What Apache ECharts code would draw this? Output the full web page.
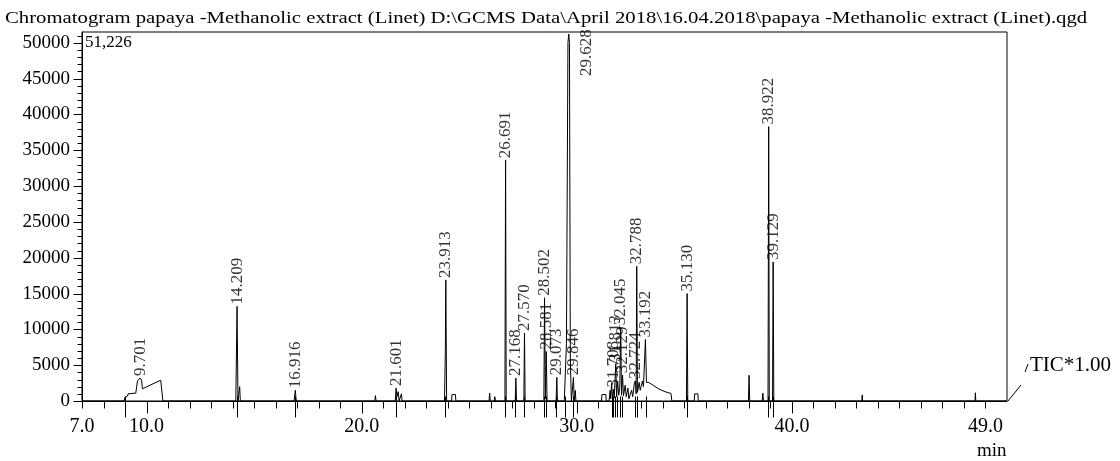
<!DOCTYPE html>
<html><head><meta charset="utf-8">
<script src="https://cdn.jsdelivr.net/npm/echarts@6/dist/echarts.min.js"></script>
<style>html,body{margin:0;padding:0;background:#fff;}#c{width:1120px;height:461px;}</style>
</head><body><div id="c"></div>
<script>
const titleText = 'Chromatogram papaya -Methanolic extract (Linet) D:\\GCMS Data\\April 2018\\16.04.2018\\papaya -Methanolic extract (Linet).qgd';
const maxLabel = '51,226';
const detectorLabel = 'TIC*1.00';
const xUnit = 'min';

// chromatogram trace: [retention time (min), intensity]
const trace = [
[7.0,0],[8.96,0],[8.99,500],[9.12,700],[9.14,1000],[9.50,1100],[9.58,2800],[9.701,3200],[9.77,2900],[9.81,1700],[9.90,1900],[10.30,2400],[10.66,2900],[10.73,2900],[10.76,0],
[14.15,0],[14.209,13200],[14.25,0],[14.30,0],[14.33,2000],[14.36,0],
[16.86,0],[16.916,1500],[16.95,300],[16.98,0],
[20.61,0],[20.64,750],[20.67,0],
[21.56,0],[21.601,1800],[21.64,600],[21.70,1300],[21.74,0],[21.82,0],[21.85,1000],[21.88,0],
[23.85,0],[23.89,7000],[23.913,16900],[23.95,0],[24.18,0],[24.20,900],[24.36,900],[24.38,0],
[25.92,0],[25.95,1100],[25.98,0],[26.16,0],[26.19,600],[26.22,0],
[26.66,0],[26.691,33600],[26.72,0],
[27.14,0],[27.168,3200],[27.20,0],
[27.54,0],[27.570,9500],[27.60,0],
[28.47,0],[28.502,14400],[28.54,300],[28.581,6900],[28.62,0],
[29.04,0],[29.073,3300],[29.10,0],
[29.42,0],[29.52,8000],[29.59,50000],[29.628,51226],[29.66,50000],[29.70,6000],[29.75,0],
[29.81,0],[29.846,3300],[29.88,0],[29.91,0],[29.93,1500],[29.96,0],
[31.15,0],[31.17,900],[31.35,900],[31.37,0],
[31.50,0],[31.55,1500],[31.58,300],[31.62,2500],[31.66,500],[31.708,1600],[31.74,400],[31.78,3000],[31.813,5200],[31.85,600],[31.90,2800],[31.95,800],[32.00,2000],[32.045,10300],[32.08,800],[32.129,3600],[32.17,700],[32.25,2200],[32.30,600],[32.38,1800],[32.42,300],[32.55,1500],[32.60,600],[32.68,2500],[32.724,2800],[32.76,1000],[32.788,18800],[32.82,1200],[32.90,2600],[32.95,1500],[33.05,2800],[33.10,2000],[33.192,8600],[33.24,2600],[33.37,2550],[33.55,2200],[33.80,1700],[34.10,1300],[34.38,1050],[34.42,0],
[35.10,0],[35.130,15000],[35.16,0],
[35.46,0],[35.48,1000],[35.63,1000],[35.65,0],
[37.98,0],[38.01,3600],[38.04,0],
[38.62,0],[38.65,1100],[38.68,0],
[38.89,0],[38.922,38300],[38.95,0],[39.10,0],[39.129,19400],[39.16,0],
[43.25,0],[43.27,850],[43.29,0],
[48.51,0],[48.53,1150],[48.55,0],
[50.0,0]
];

// labelled peaks
const peakTimes   = [9.701, 14.209, 16.916, 21.601, 23.913, 26.691, 27.168, 27.570, 28.502, 28.581, 29.073, 29.628, 29.846, 31.708, 31.813, 32.045, 32.129, 32.724, 32.788, 33.192, 35.130, 38.922, 39.129];
const peakHeights = [3200, 13200, 1500, 1800, 16900, 33600, 3200, 9500, 14400, 6900, 3300, 51226, 3300, 1600, 5200, 10300, 3600, 2800, 18800, 8600, 15000, 38300, 19400];
const peakLabels  = ['9.701','14.209','16.916','21.601','23.913','26.691','27.168','27.570','28.502','28.581','29.073','29.628','29.846','31.708','31.813','32.045','32.129','32.724','32.788','33.192','35.130','38.922','39.129'];

// integration markers (peak start positions) drawn across the baseline
const markerTimes = [8.98, 14.19, 16.89, 21.59, 23.89, 26.67, 27.15, 27.55, 28.48, 28.57, 29.05, 29.45, 29.82, 31.62, 31.70, 31.80, 31.88, 32.03, 32.12, 32.72, 32.80, 33.20, 35.12, 38.91, 39.12];

// axis ticks
const xTickLabels = [7, 10, 20, 30, 40, 49];
const xMajorTicks = [10, 20, 30, 40];
const xMinorTicks = [7,8,9,11,12,13,14,15,16,17,18,19,21,22,23,24,25,26,27,28,29,31,32,33,34,35,36,37,38,39,41,42,43,44,45,46,47,48,49];
const yTickLabels = [0,5000,10000,15000,20000,25000,30000,35000,40000,45000,50000];
const yMinorTicks = [1000,2000,3000,4000,6000,7000,8000,9000,11000,12000,13000,14000,16000,17000,18000,19000,21000,22000,23000,24000,26000,27000,28000,29000,31000,32000,33000,34000,36000,37000,38000,39000,41000,42000,43000,44000,46000,47000,48000,49000,51000];

const FONT = '"Liberation Serif", "Times New Roman", serif';
const X_MIN = 7, X_MAX = 50, Y_MAX = 51500;

const peakData = peakTimes.map((t, i) => {
  const item = { value: [t, peakHeights[i]], name: peakLabels[i] };
  if (peakHeights[i] >= Y_MAX * 0.98) item.label = { offset: [-44, 18] };
  return item;
});

// short tick strokes anchored at data points [x, y] (through the axes), offsets in pixels
function tickSeries(name, points, dx1, dy1, dx2, dy2) {
  return {
    type: 'custom', name: name, data: points, silent: true, clip: false, z: 10,
    renderItem: function (params, api) {
      const p = api.coord([api.value(0), api.value(1)]);
      const cx = Math.round(p[0]) + 0.5, cy = Math.round(p[1]) + 0.5;
      return { type: 'line', z2: 10,
               shape: { x1: cx + dx1, y1: cy + dy1, x2: cx + dx2, y2: cy + dy2 },
               style: { stroke: '#000', lineWidth: 1 } };
    }
  };
}

const chart = echarts.init(document.getElementById('c'), null, { renderer: 'canvas' });
const axisColor = '#000';
chart.setOption({
  animation: false,
  backgroundColor: '#fff',
  grid: { left: 82, right: 113, top: 32, bottom: 60, show: true, borderColor: axisColor, borderWidth: 1 },
  xAxis: {
    type: 'value', min: X_MIN, max: X_MAX, interval: 1,
    axisLine: { show: true, onZero: false, lineStyle: { color: axisColor, width: 1 } },
    splitLine: { show: false },
    axisTick: { show: false },
    axisLabel: { show: true, showMinLabel: true, showMaxLabel: false,
      formatter: v => (xTickLabels.indexOf(v) >= 0 ? v.toFixed(1) : ''),
      color: '#000', fontFamily: FONT, fontSize: 20, margin: 16 }
  },
  yAxis: {
    type: 'value', min: 0, max: Y_MAX, interval: 1000,
    axisLine: { show: true, onZero: false, lineStyle: { color: axisColor, width: 1 } },
    splitLine: { show: false },
    axisTick: { show: false },
    axisLabel: { show: true, showMaxLabel: false,
      formatter: v => (yTickLabels.indexOf(v) >= 0 ? String(v) : ''),
      color: '#000', fontFamily: FONT, fontSize: 19, margin: 12 }
  },
  series: [
    { type: 'line', name: 'trace', data: trace, symbol: 'none', showSymbol: false,
      lineStyle: { color: '#000', width: 1 }, silent: true, clip: true, z: 3 },
    { type: 'scatter', name: 'peaks', data: peakData, symbolSize: 0, silent: true, z: 4,
      label: { show: true, formatter: p => p.name, rotate: 90, position: 'top', distance: 2,
               align: 'left', verticalAlign: 'middle', fontFamily: FONT, fontSize: 17, color: '#000' } },
    tickSeries('xMajor', xMajorTicks.map(v => [v, 0]), 0, 0, 0, 12),
    tickSeries('xMinor', xMinorTicks.map(v => [v, 0]), 0, 0, 0, 7),
    tickSeries('yMajor', yTickLabels.map(v => [X_MIN, v]), -9, 0, 0, 0),
    tickSeries('yMinor', yMinorTicks.map(v => [X_MIN, v]), -5, 0, 0, 0),
    tickSeries('markers', markerTimes.map(v => [v, 0]), 0, -5, 0, 16)
  ],
  graphic: [
    { type: 'text', x: 5, y: 10, scaleX: 1.22, style: { text: titleText, font: '17px ' + FONT, fill: '#000', verticalAlign: 'top' } },
    { type: 'text', left: 85, top: 34, style: { text: maxLabel, font: '17px ' + FONT, fill: '#000' } },
    { type: 'line', shape: { x1: 1008, y1: 401, x2: 1021, y2: 385 }, style: { stroke: '#000', lineWidth: 1 } },
    { type: 'line', shape: { x1: 1025, y1: 372, x2: 1028, y2: 364 }, style: { stroke: '#000', lineWidth: 1 } },
    { type: 'text', left: 1030, top: 355, style: { text: detectorLabel, font: '21px ' + FONT, fill: '#000' } },
    { type: 'text', left: 977, top: 442, style: { text: xUnit, font: '19px ' + FONT, fill: '#000' } }
  ]
});
</script></body></html>
